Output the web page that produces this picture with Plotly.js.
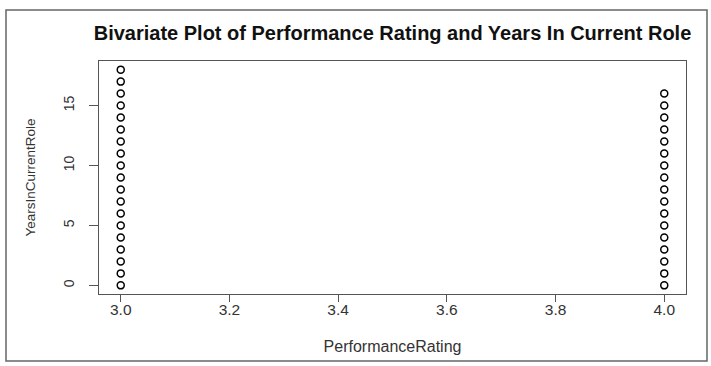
<!DOCTYPE html>
<html>
<head>
<meta charset="utf-8">
<script src="https://cdn.plot.ly/plotly-3.0.1.min.js"></script>
<style>html,body{margin:0;padding:0;background:#fff;}#chart{width:711px;height:366px;}</style>
</head>
<body>
<div id="chart"></div>
<script>
// Data
var rating3Years = [0,1,2,3,4,5,6,7,8,9,10,11,12,13,14,15,16,17,18];
var rating4Years = [0,1,2,3,4,5,6,7,8,9,10,11,12,13,14,15,16];
var rating3 = rating3Years.map(function(){return 3;});
var rating4 = rating4Years.map(function(){return 4;});
var xTicks = [3.0,3.2,3.4,3.6,3.8,4.0];
var xTickLabels = ["3.0","3.2","3.4","3.6","3.8","4.0"];
var yTicks = [0,5,10,15];

var marker = {symbol:'circle-open', size:7, color:'#000', line:{color:'#111', width:1.5}};
var traces = [
  {x: rating3.concat(rating4), y: rating3Years.concat(rating4Years), type:'scatter', mode:'markers', marker: marker, hoverinfo:'x+y'}
];

var fam = 'Liberation Sans, Arial, sans-serif';
var layout = {
  width:711, height:366,
  margin:{l:99, r:25, t:61, b:72},
  paper_bgcolor:'#fff', plot_bgcolor:'#fff',
  showlegend:false,
  font: {family:fam, color:'#333', size:13},
  title:{text:'<b>Bivariate Plot of Performance Rating and Years In Current Role</b>',
         font:{family:fam, size:20, color:'#111'},
         x:(392.5)/711, xref:'container', xanchor:'center', y:1 - 33/366, yanchor:'middle'},
  xaxis:{range:[2.96,4.04], tickvals:xTicks, ticktext:xTickLabels, ticks:'outside', ticklen:7,
         tickcolor:'#555', showgrid:false, zeroline:false, showline:true, mirror:true, linecolor:'#555', linewidth:1.3,
         ticklabelstandoff:-6,
         title:{text:'PerformanceRating', font:{family:fam, size:16, color:'#333'}, standoff:24}, tickfont:{family:fam, size:15.5, color:'#333'}},
  yaxis:{range:[-0.72,18.72], tickvals:yTicks, ticks:'outside', ticklen:9, tickangle:-90,
         tickcolor:'#555', showgrid:false, zeroline:false, showline:true, mirror:true, linecolor:'#555', linewidth:1.3,
         ticklabelstandoff:9,
         title:{text:'YearsInCurrentRole', font:{family:fam, size:13.5, color:'#333'}, standoff:22}, tickfont:{family:fam, size:14, color:'#333'}},
  shapes:[{type:'rect', xref:'paper', yref:'paper', x0:(6-99)/587, x1:(707-99)/587, y0:(294-361)/233, y1:(294-10)/233,
           line:{color:'#666', width:1.5}, fillcolor:'rgba(0,0,0,0)'}]
};
Plotly.newPlot('chart', traces, layout, {displayModeBar:false, staticPlot:true});
</script>
</body>
</html>
